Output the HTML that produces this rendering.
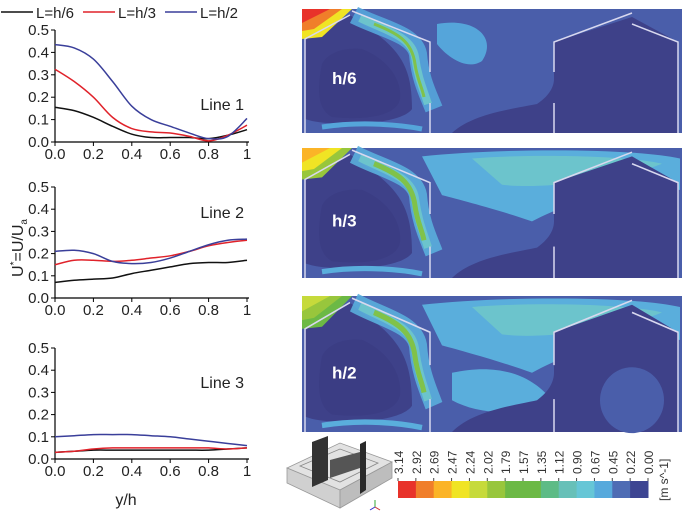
<!DOCTYPE html>
<html><head><meta charset="utf-8"><style>
body{margin:0;background:#fff;width:685px;height:514px;overflow:hidden;font-family:"Liberation Sans",sans-serif}
svg text{font-family:"Liberation Sans",sans-serif}
</style></head><body>
<svg id="fig" width="685" height="514" viewBox="0 0 685 514">
<g id="left"></g>
<g id="right"></g>
<g id="cbar"></g>
<g>
 <polygon points="287,468 340,443 392,462 340,490" fill="#e2e2e2" stroke="#999" stroke-width="0.8"/>
 <polygon points="287,468 287,483 340,508 340,490" fill="#d0d0d0" stroke="#999" stroke-width="0.8"/>
 <polygon points="340,490 340,508 392,478 392,462" fill="#bdbdbd" stroke="#999" stroke-width="0.8"/>
 <polygon points="300,466 340,449 378,463 340,482" fill="none" stroke="#888" stroke-width="0.8"/>
 <polygon points="312,442 328,436 328,480 312,487" fill="#333"/>
 <polygon points="330,460 360,452 360,468 330,478" fill="#555"/>
 <polygon points="360,444 366,441 366,490 360,494" fill="#2a2a2a"/>
 <line x1="375" y1="500" x2="375" y2="507" stroke="#3a3" stroke-width="1"/>
 <line x1="375" y1="507" x2="370" y2="510" stroke="#33c" stroke-width="1"/>
 <line x1="375" y1="507" x2="380" y2="510" stroke="#c33" stroke-width="1"/>
</g>
</svg>
<script>
const NS='http://www.w3.org/2000/svg';
const xs=[0,0.1,0.2,0.3,0.4,0.5,0.6,0.7,0.8,0.9,1.0];
const line1Black=[0.155,0.14,0.11,0.07,0.035,0.02,0.02,0.02,0.015,0.03,0.055];
const line1Red=[0.325,0.27,0.2,0.11,0.06,0.045,0.04,0.025,0.005,0.03,0.075];
const line1Blue=[0.435,0.42,0.37,0.27,0.16,0.1,0.07,0.04,0.015,0.025,0.105];
const line2Black=[0.07,0.08,0.085,0.09,0.11,0.125,0.14,0.155,0.16,0.16,0.17];
const line2Red=[0.15,0.17,0.17,0.165,0.17,0.18,0.19,0.21,0.235,0.25,0.26];
const line2Blue=[0.21,0.215,0.2,0.165,0.155,0.16,0.18,0.21,0.24,0.26,0.265];
const line3Black=[0.03,0.035,0.04,0.04,0.04,0.04,0.04,0.04,0.04,0.045,0.05];
const line3Red=[0.03,0.035,0.045,0.05,0.05,0.05,0.05,0.05,0.05,0.045,0.05];
const line3Blue=[0.1,0.105,0.11,0.11,0.11,0.105,0.1,0.09,0.08,0.07,0.06];
const yTicks=['0.0','0.1','0.2','0.3','0.4','0.5'];
const xTicks=['0.0','0.2','0.4','0.6','0.8','1'];
const colorLabels=['3.14','2.92','2.69','2.47','2.24','2.02','1.79','1.57','1.35','1.12','0.90','0.67','0.45','0.22','0.00'];
const colorSteps=['#e8322a','#f07e2a','#fbb427','#f0e424','#c6da3b','#98c63c','#6cb945','#6cb945','#5dbb86','#67c0b8','#66c6d6','#57a9dc','#4e6cb4','#3d4592'];
const panelLabels=['h/6','h/3','h/2'];
const SER_COLORS=['#111','#e0222a','#3a3f9a'];

function el(tag,attrs,parent){const e=document.createElementNS(NS,tag);for(const k in attrs)e.setAttribute(k,attrs[k]);parent.appendChild(e);return e;}
function smooth(pts){let d='M'+pts[0][0]+','+pts[0][1];for(let i=0;i<pts.length-1;i++){const p0=pts[i-1]||pts[i],p1=pts[i],p2=pts[i+1],p3=pts[i+2]||p2;d+=' C'+(p1[0]+(p2[0]-p0[0])/6)+','+(p1[1]+(p2[1]-p0[1])/6)+' '+(p2[0]-(p3[0]-p1[0])/6)+','+(p2[1]-(p3[1]-p1[1])/6)+' '+p2[0]+','+p2[1];}return d;}

const left=document.getElementById('left');
const charts=[{y0:142,y5:30,series:[line1Black,line1Red,line1Blue],title:'Line 1',ty:110},
{y0:298,y5:187,series:[line2Black,line2Red,line2Blue],title:'Line 2',ty:218},
{y0:459,y5:348,series:[line3Black,line3Red,line3Blue],title:'Line 3',ty:388}];
const X0=55,X1=247;
const xScale=v=>X0+v*(X1-X0);
charts.forEach((c,ci)=>{
 const g=el('g',{},left);
 
 
 const yScale=v=>c.y0-v/0.5*(c.y0-c.y5);
 el('line',{x1:X0,y1:c.y5,x2:X0,y2:c.y0,stroke:'#000','stroke-width':1.2},g);
 el('line',{x1:X0,y1:c.y0,x2:X1+2,y2:c.y0,stroke:'#000','stroke-width':1.2},g);
 yTicks.forEach((t,i)=>{const y=yScale(i*0.1);
  el('line',{x1:X0-4,y1:y,x2:X0,y2:y,stroke:'#000'},g);
  const tx=el('text',{x:X0-6,y:y+5,'text-anchor':'end','font-size':15,fill:'#222'},g);tx.textContent=t;
  
  });
 xTicks.forEach((t,i)=>{const x=xScale(i*0.2);
  el('line',{x1:x,y1:c.y0,x2:x,y2:c.y0+4,stroke:'#000'},g);
  const tx=el('text',{x:x,y:c.y0+17,'text-anchor':'middle','font-size':15,fill:'#222'},g);tx.textContent=t;
  
  });
 c.series.forEach((s,si)=>{
  const p=el('path',{d:smooth(s.map((v,i)=>[xScale(xs[i]),yScale(v)])),fill:'none',stroke:SER_COLORS[si],'stroke-width':1.5},g);
  
  });
 const tt=el('text',{x:244,y:c.ty,'text-anchor':'end','font-size':16,fill:'#222'},g);tt.textContent=c.title;
 
 
});
const lg=el('g',{},left);


const legendNames=['L=h/6','L=h/3','L=h/2'];
[0,82,164].forEach((x,i)=>{el('line',{x1:x+1,y1:12,x2:x+33,y2:12,stroke:SER_COLORS[i],'stroke-width':1.5},lg);
 const t=el('text',{x:x+36,y:18,'font-size':15,fill:'#222'},lg);t.textContent=legendNames[i];
 
 });
const yl=el('text',{x:0,y:0,transform:'translate(23,248) rotate(-90)','text-anchor':'middle','font-size':16,fill:'#222'},left);
yl.innerHTML='U<tspan dy="-6" font-size="10">*</tspan><tspan dy="6">=U/U</tspan><tspan dy="4" font-size="10">a</tspan>';


const xl=el('text',{x:126,y:505,'text-anchor':'middle','font-size':16,fill:'#222'},left);xl.textContent='y/h';



const right=document.getElementById('right');
const panels=[{y:9,h:124},{y:148,h:130},{y:296,h:136}];
panels.forEach((p,pi)=>{
 const g=el('g',{transform:'translate(302,'+p.y+') scale(1,'+(p.h/124)+')'},right);
 
 
 el('rect',{x:0,y:0,width:380,height:124,fill:'#4a5eaa'},g);
 const light=pi==0?'#55a5da':'#5aaedc';
 if(pi>0){el('path',{d:'M120,8 C200,0 330,0 378,10 L378,40 C300,40 260,55 230,70 C200,60 160,50 140,45 Z',fill:light},g);
  el('path',{d:'M170,10 C240,5 330,8 360,15 C320,30 240,40 200,35 Z',fill:'#6cc4cc'},g);}
 else {el('path',{d:'M135,15 C175,8 195,30 180,52 C165,62 145,48 135,35 Z',fill:light},g);}
 if(pi==2) el('path',{d:'M150,70 C200,60 230,75 245,90 C230,110 180,110 150,95 Z',fill:light},g);
 el('path',{d:'M3,30 L48,6 L60,15 C100,40 110,60 110,100 C100,115 40,118 10,112 L3,110 Z',fill:'#3e4189'},g);
 el('path',{d:'M252,33 L330,8 L376,33 L376,124 L150,124 C170,105 210,100 235,95 C250,85 252,75 252,70 Z',fill:'#3e4189'},g);
 if(pi==2) el('ellipse',{cx:330,cy:95,rx:32,ry:30,fill:'#4a5eaa'},g);
 el('path',{d:'M20,55 C15,80 15,100 30,108 C70,112 95,105 98,90 C100,70 85,50 60,40 C40,38 25,45 20,55 Z',fill:'#3b3d84'},g);
 el('path',{d:'M52,6 C80,20 112,25 116,45 C118,70 126,85 132,100',fill:'none',stroke:light,'stroke-width':18,'stroke-linecap':'butt','stroke-opacity':0.9},g);
 el('path',{d:'M58,9 C85,22 110,28 113,48 C116,70 122,82 126,95',fill:'none',stroke:'#6cc4cc','stroke-width':8},g);
 el('path',{d:'M72,15 C95,24 110,32 113,55 C115,70 120,78 122,88',fill:'none',stroke:'#80c24a','stroke-width':pi==0?3:5},g);
 el('path',{d:'M20,118 C60,112 100,116 120,120',fill:'none',stroke:light,'stroke-width':5},g);
 const cc=pi==0?['#e8322a','#f07e2a','#f0e424']:pi==1?['#fbb427','#f0e424','#98c63c']:['#c6da3b','#98c63c','#6cb945'];
 el('path',{d:'M0,0 L50,0 L20,28 L0,30 Z',fill:cc[2]},g);
 el('path',{d:'M0,0 L40,0 L12,20 L0,22 Z',fill:cc[1]},g);
 el('path',{d:'M0,0 L28,0 L0,14 Z',fill:cc[0]},g);
 const w={fill:'none',stroke:'#d8d8ef','stroke-width':1.5};
 el('polyline',Object.assign({points:'3,124 3,30 48,6'},w),g);
 el('polyline',Object.assign({points:'50,2 128,33 128,63'},w),g);
 el('line',Object.assign({x1:128,y1:94,x2:128,y2:124},w),g);
 el('polyline',Object.assign({points:'252,63 252,33 330,4'},w),g);
 el('polyline',Object.assign({points:'330,15 376,33 376,124'},w),g);
 el('line',Object.assign({x1:252,y1:94,x2:252,y2:124},w),g);
 const lt=el('text',{x:30,y:75,'font-size':17,'font-weight':'bold',fill:'#fff',transform:'scale(1,'+(124/p.h)+') translate(0,'+(75*(p.h/124)-75)+')'},g);
 lt.textContent=panelLabels[pi];
 
 
});

const cb=document.getElementById('cbar');
const CBX0=398,CBX1=648,sw=(CBX1-CBX0)/colorSteps.length;
colorSteps.forEach((c,i)=>{const r=el('rect',{x:CBX0+i*sw,y:481,width:sw+0.5,height:17,fill:c},cb);
 
 });
colorLabels.forEach((t,i)=>{const x=CBX0+i*(CBX1-CBX0)/(colorLabels.length-1);
 el('line',{x1:x,y1:478,x2:x,y2:481,stroke:'#444'},cb);
 const tx=el('text',{x:0,y:0,transform:'translate('+(x+5)+',474) rotate(-90)','font-size':12,fill:'#333'},cb);tx.textContent=t;
 
 });
const un=el('text',{x:0,y:0,transform:'translate(668,501) rotate(-90)','font-size':12,fill:'#333'},cb);un.textContent='[m s^-1]';


</script>
</body></html>
